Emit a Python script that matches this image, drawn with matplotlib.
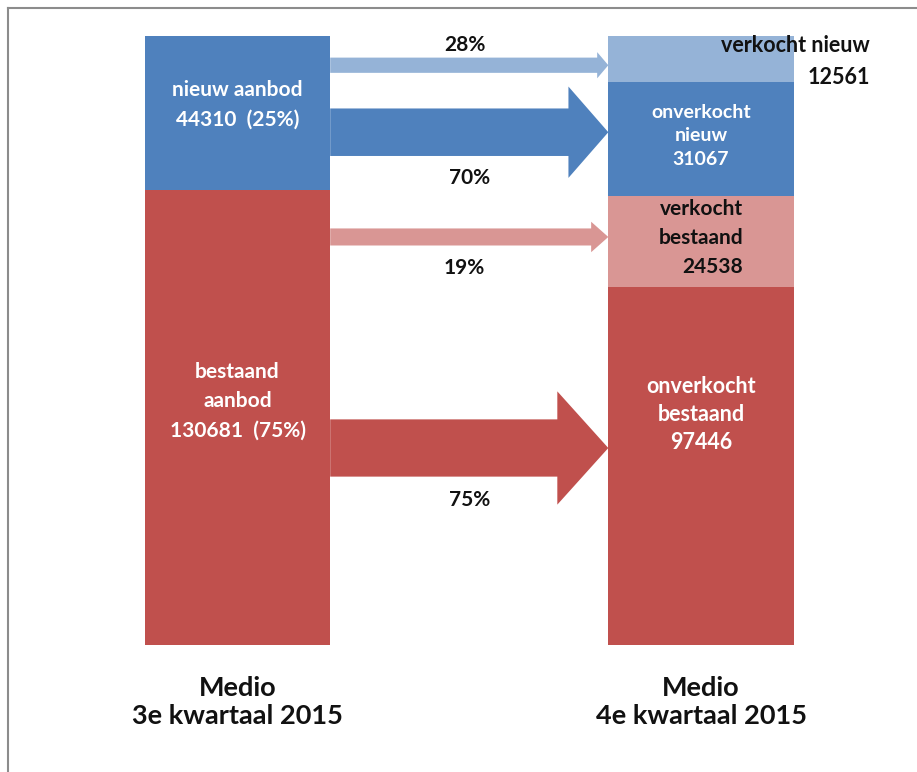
#! /usr/bin/env python
"""Aanbod woningen: nieuw en bestaand, verkocht en onverkocht."""

import matplotlib
matplotlib.use('Agg')
import matplotlib.pyplot as plt
from matplotlib.patches import FancyArrow
from matplotlib.lines import Line2D

plt.rcParams['font.family'] = ['Lato', 'DejaVu Sans']
plt.rcParams['font.weight'] = 'bold'

# Data
periods = ['Medio\n3e kwartaal 2015', 'Medio\n4e kwartaal 2015']
left_segments = ['bestaand aanbod', 'nieuw aanbod']
left_values = [130681, 44310]
right_segments = ['onverkocht bestaand', 'verkocht bestaand',
                  'onverkocht nieuw', 'verkocht nieuw']
right_values = [97446, 24538, 31067, 12561]
flow_pct = [28, 70, 19, 75]   # nieuw->verkocht, nieuw->onverkocht, bestaand->..

BLUE = '#4f81bd'
RED = '#c0504d'
LBLUE = '#95b3d7'
LRED = '#d99694'

fig = plt.figure()
fig.set_size_inches(9.17, 7.72)
ax = fig.add_axes([0, 0, 1, 1])
ax.set_xlim(-0.5124, 1.4660)
ax.set_ylim(-0.2085, 1.0591)
ax.axis('off')

# Stacked bars, each scaled to its own total
width = 0.4
left_total = float(sum(left_values))
bottom = 0
for val, col in zip(left_values, [RED, BLUE]):
    ax.bar(0, val / left_total, width=width, bottom=bottom, color=col,
           linewidth=0)
    bottom += val / left_total

right_total = float(sum(right_values))
bottom = 0
for val, col in zip(right_values, [RED, LRED, BLUE, LBLUE]):
    ax.bar(1, val / right_total, width=width, bottom=bottom, color=col,
           linewidth=0)
    bottom += val / right_total

# Arrows: (y centre, shaft, head width, head length, colour)
arrows = [(0.952, 0.025, 0.043, 0.024, LBLUE),
          (0.842, 0.078, 0.150, 0.086, BLUE),
          (0.670, 0.028, 0.050, 0.037, LRED),
          (0.3235, 0.094, 0.186, 0.110, RED)]
x0 = width / 2
x1 = 1 - width / 2
for yc, w, hw, hl, col in arrows:
    ax.add_patch(FancyArrow(x0, yc, x1 - x0, 0, width=w, head_width=hw,
                            head_length=hl, length_includes_head=True,
                            color=col, linewidth=0))

pct_pos = [(0.49, 0.985), (0.50, 0.767), (0.49, 0.619), (0.50, 0.238)]
for p, (x, y) in zip(flow_pct, pct_pos):
    ax.text(x, y, '%d%%' % p, ha='center', va='center', fontsize=15,
            color='#111111')

# Segment labels
ax.text(0, 0.887, 'nieuw aanbod\n%d  (%d%%)'
        % (left_values[1], round(100 * left_values[1] / left_total)),
        ha='center', va='center', fontsize=15, color='white',
        linespacing=1.57)
ax.text(0, 0.400, 'bestaand\naanbod\n%d  (%d%%)'
        % (left_values[0], round(100 * left_values[0] / left_total)),
        ha='center', va='center', fontsize=15, color='white',
        linespacing=1.57)

ax.text(1.365, 0.958, 'verkocht nieuw\n%d' % right_values[3], ha='right',
        va='center', fontsize=15.5, color='#111111', linespacing=1.67)
ax.text(1, 0.836, 'onverkocht\nnieuw\n%d' % right_values[2], ha='center',
        va='center', fontsize=14, color='white', linespacing=1.46)
ax.text(1.091, 0.668, 'verkocht\nbestaand\n%d' % right_values[1], ha='right',
        va='center', fontsize=15, color='#111111', linespacing=1.57)
ax.text(1, 0.378, 'onverkocht\nbestaand\n%d' % right_values[0], ha='center',
        va='center', fontsize=15.5, color='white', linespacing=1.42)

for i, lab in enumerate(periods):
    ax.text(i, -0.094, lab, ha='center', va='center', fontsize=19.5,
            color='#111111', linespacing=1.2)

# Grey frame (top and left only)
fig.add_artist(Line2D([8 / 917., 1], [1 - 8 / 772., 1 - 8 / 772.],
                      color='#8c8c8c', linewidth=1.5))
fig.add_artist(Line2D([8 / 917., 8 / 917.], [0, 1 - 8 / 772.],
                      color='#8c8c8c', linewidth=1.5))

fig.savefig('out.png', dpi=100)
